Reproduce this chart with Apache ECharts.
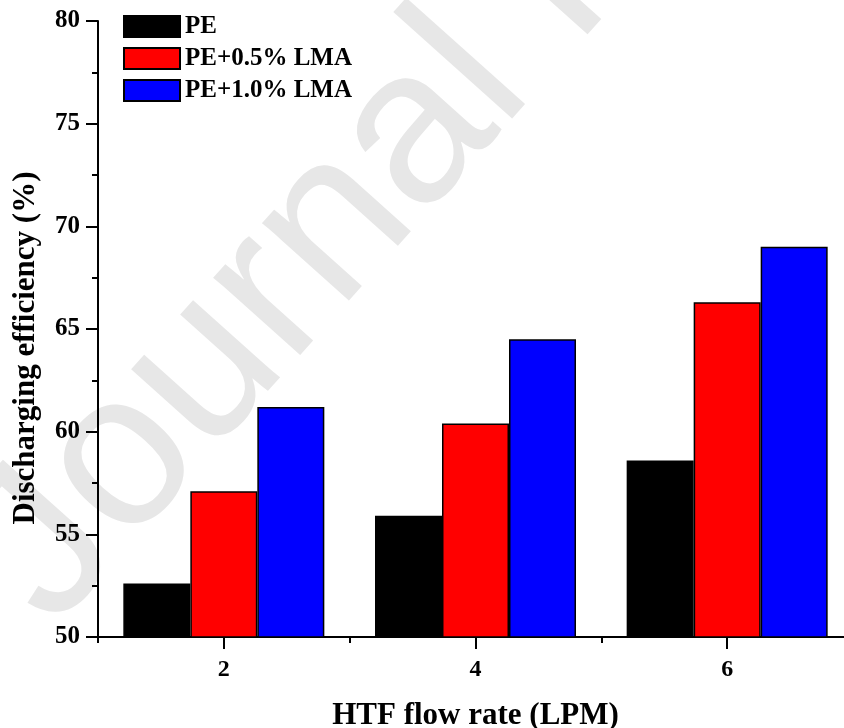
<!DOCTYPE html>
<html>
<head>
<meta charset="utf-8">
<script src="https://cdn.jsdelivr.net/npm/echarts@6/dist/echarts.min.js"></script>
<style>
  html, body { margin: 0; padding: 0; background: #fff; }
  #chart { width: 844px; height: 728px; }
</style>
</head>
<body>
<div id="chart"></div>
<script>
// HTF flow rate categories (LPM)
const categories = ['2', '4', '6'];
// Series names shown in the legend
const seriesNames = ['PE', 'PE+0.5% LMA', 'PE+1.0% LMA'];
// Discharging efficiency (%) per flow rate
const pe = [52.6, 55.9, 58.6];
const pe05 = [57.1, 60.4, 66.3];
const pe10 = [61.2, 64.5, 69.0];
// Value axis range
const yMin = 50;
const yMax = 80;
const yStep = 5;

const serif = '"Liberation Serif", "Times New Roman", serif';
const colors = ['#000000', '#ff0000', '#0000ff'];
const values = [pe, pe05, pe10];

const chart = echarts.init(document.getElementById('chart'), null, { renderer: 'canvas' });

const option = {
  backgroundColor: '#ffffff',
  animation: false,
  grid: { left: 98, top: 21, width: 755, bottom: 91, containLabel: false, outerBoundsMode: 'none' },
  legend: {
    data: seriesNames,
    orient: 'vertical',
    left: 123,
    top: 14,
    padding: 0,
    itemWidth: 56,
    itemHeight: 21,
    itemGap: 7,
    icon: 'rect',
    textStyle: { fontFamily: serif, fontWeight: 'bold', fontSize: 25, color: '#000' }
  },
  xAxis: [
    {
      type: 'category',
      data: categories,
      position: 'bottom',
      name: 'HTF flow rate (LPM)',
      nameLocation: 'middle',
      nameGap: 63,
      nameTextStyle: { fontFamily: serif, fontWeight: 'bold', fontSize: 31, color: '#000' },
      axisLine: { show: true, lineStyle: { color: '#000', width: 2 } },
      axisTick: { show: true, alignWithLabel: true, length: 12, lineStyle: { color: '#000', width: 2 } },
      axisLabel: { fontFamily: serif, fontWeight: 'bold', fontSize: 24, color: '#000', margin: 21 },
      splitLine: { show: false }
    },
    {
      // short ticks on the category boundaries
      type: 'category',
      data: categories,
      position: 'bottom',
      axisLine: { show: false },
      axisTick: { show: true, alignWithLabel: false, length: 6, lineStyle: { color: '#000', width: 2 } },
      axisLabel: { show: false },
      splitLine: { show: false }
    }
  ],
  yAxis: {
    type: 'value',
    min: yMin,
    max: yMax,
    interval: yStep,
    axisLine: { show: true, lineStyle: { color: '#000', width: 2 } },
    axisTick: { show: true, length: 12, lineStyle: { color: '#000', width: 2 } },
    minorTick: { show: true, splitNumber: 2, length: 6, lineStyle: { color: '#000', width: 2 } },
    axisLabel: { fontFamily: serif, fontWeight: 'bold', fontSize: 25, color: '#000', margin: 18 },
    splitLine: { show: false }
  },
  graphic: [
    {
      type: 'text',
      z: -100,
      silent: true,
      x: 8,
      y: 590,
      rotation: 0.84,
      style: {
        text: 'Journal Pre-proof',
        font: '220px "Liberation Sans", Arial, sans-serif',
        fill: '#e7e7e7',
        textAlign: 'left',
        textVerticalAlign: 'middle'
      }
    },
    {
      type: 'text',
      z: 100,
      x: 26,
      y: 348,
      rotation: Math.PI / 2,
      style: {
        text: 'Discharging efficiency (%)',
        font: 'bold 31px ' + serif,
        fill: '#000',
        textAlign: 'center',
        textVerticalAlign: 'middle'
      }
    }
  ],
  series: seriesNames.map((name, i) => ({
    name: name,
    type: 'bar',
    xAxisIndex: 0,
    barWidth: 67,
    barGap: '0%',
    data: values[i],
    itemStyle: { color: colors[i], borderColor: '#000', borderWidth: 1.5 }
  }))
};

chart.setOption(option);
</script>
</body>
</html>
